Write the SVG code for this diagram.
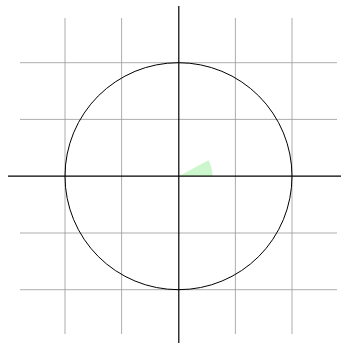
<svg xmlns="http://www.w3.org/2000/svg" width="341" height="343" viewBox="0 0 341 343">
<style>
.grid{stroke:#999;stroke-width:1;fill:none;opacity:0.8}
.axis{stroke:#000;stroke-width:1.2;fill:none}
</style>
<rect width="341" height="343" fill="#fff"/>
<g id="grid">
<line class="grid" x1="65" y1="18" x2="65" y2="334"/>
<line class="grid" x1="121.6" y1="18" x2="121.6" y2="334"/>
<line class="grid" x1="235.4" y1="18" x2="235.4" y2="334"/>
<line class="grid" x1="292" y1="18" x2="292" y2="334"/>
<line class="grid" x1="20" y1="62.7" x2="337" y2="62.7"/>
<line class="grid" x1="20" y1="119.4" x2="337" y2="119.4"/>
<line class="grid" x1="20" y1="233" x2="337" y2="233"/>
<line class="grid" x1="20" y1="289.7" x2="337" y2="289.7"/>
</g>
<g id="wedge">
<path d="M178.5,176.2 L212.5,176.2 A34,34 0 0 0 208.5,160.2 Z" fill="#ccf7cc"/>
</g>
<g id="axes">
<line class="axis" x1="8" y1="176.2" x2="341" y2="176.2"/>
<line class="axis" x1="178.8" y1="6" x2="178.8" y2="343"/>
</g>
<g id="circle">
<circle cx="178.5" cy="176.2" r="113.5" fill="none" stroke="#000" stroke-width="1"/>
</g>
</svg>
